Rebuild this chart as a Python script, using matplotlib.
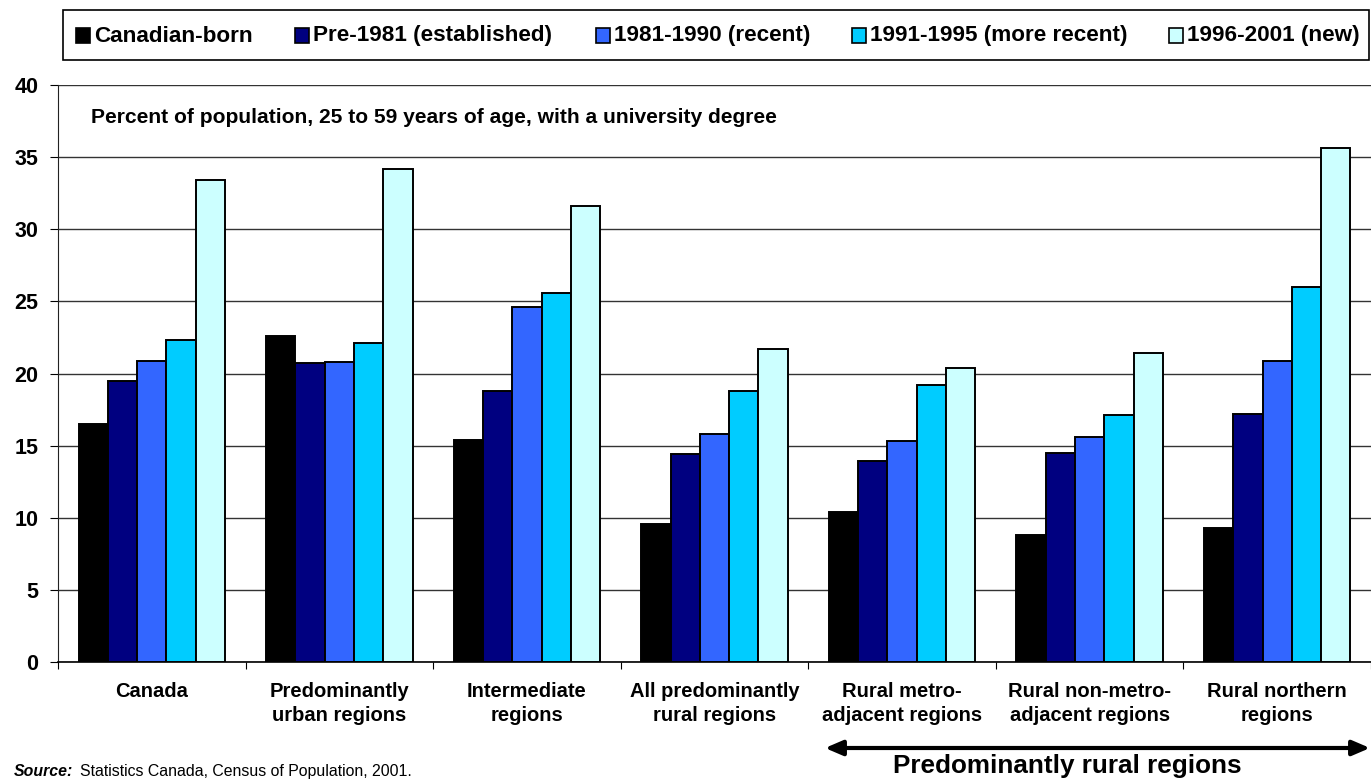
import matplotlib
matplotlib.use("Agg")
import matplotlib.pyplot as plt
import numpy as np
from matplotlib.patches import Rectangle, FancyArrowPatch

plt.rcParams['font.family'] = ['Liberation Sans', 'DejaVu Sans']

categories = ["Canada", "Predominantly\nurban regions", "Intermediate\nregions",
              "All predominantly\nrural regions", "Rural metro-\nadjacent regions",
              "Rural non-metro-\nadjacent regions", "Rural northern\nregions"]
series_names = ["Canadian-born", "Pre-1981 (established)", "1981-1990 (recent)",
                "1991-1995 (more recent)", "1996-2001 (new)"]
canadian_born = [16.5, 22.6, 15.4, 9.6, 10.4, 8.8, 9.3]
pre_1981 = [19.5, 20.7, 18.8, 14.4, 13.9, 14.5, 17.2]
y1981_1990 = [20.9, 20.8, 24.6, 15.8, 15.3, 15.6, 20.9]
y1991_1995 = [22.3, 22.1, 25.6, 18.8, 19.2, 17.1, 26.0]
y1996_2001 = [33.4, 34.2, 31.6, 21.7, 20.4, 21.4, 35.6]
series = [canadian_born, pre_1981, y1981_1990, y1991_1995, y1996_2001]
colors = ["#000000", "#000080", "#3366FF", "#00CCFF", "#CCFFFF"]
yticks = [0, 5, 10, 15, 20, 25, 30, 35, 40]

W, H = 1371, 780
fig = plt.figure(figsize=(W/100, H/100), dpi=100)
ax = fig.add_axes([58/W, 118/H, 1 - 58/W, 577/H])

n = len(categories)
x = np.arange(n)
bw = 0.156
for i, (vals, c) in enumerate(zip(series, colors)):
    ax.bar(x + (i - 2) * bw, vals, width=bw, color=c, edgecolor="black",
           linewidth=1.4, zorder=3)

ax.set_xlim(-0.5, n - 0.5)
ax.set_ylim(0, 40)
ax.set_yticks(yticks)
ax.set_yticklabels([str(t) for t in yticks], fontsize=15.5, fontweight="bold")
ax.yaxis.grid(True, color="#333333", linewidth=1.0, zorder=0)
ax.set_axisbelow(True)
ax.set_xticks(np.arange(n + 1) - 0.5)
ax.set_xticklabels([])
ax.tick_params(axis="x", length=5, direction="out", color="black")
ax.tick_params(axis="y", length=6, direction="out", color="black", pad=8)
for s in ["top", "right"]:
    ax.spines[s].set_visible(False)
ax.spines["left"].set_color("#222222")
ax.spines["bottom"].set_color("black")
ax.spines["bottom"].set_linewidth(1.2)

for xi, lab in zip(x, categories):
    ax.text(xi, -1.4, lab, ha="center", va="top", fontsize=14.5, fontweight="bold",
            linespacing=1.3)

ax.text(0.025, 0.96, "Percent of population, 25 to 59 years of age, with a university degree",
        transform=ax.transAxes, fontsize=15.1, fontweight="bold", va="top", ha="left")

# legend box
fig.patches.append(Rectangle((63/W, 1 - 60/H), (1369 - 63)/W, 50/H,
                             transform=fig.transFigure, facecolor="white",
                             edgecolor="black", linewidth=1.2))
leg_x = [76, 295, 596, 852, 1169]
for lx, name, c in zip(leg_x, series_names, colors):
    fig.patches.append(Rectangle((lx/W, 1 - 43/H), 14/W, 15/H,
                                 transform=fig.transFigure, facecolor=c,
                                 edgecolor="black", linewidth=1.2))
    fig.text((lx + 18)/W, 1 - 36/H, name, fontsize=16.2, fontweight="bold",
             va="center", ha="left")

# arrow
fig.add_artist(FancyArrowPatch(
    (825/W, 1 - 748/H), (1370/W, 1 - 748/H), transform=fig.transFigure,
    arrowstyle="<|-|>,head_length=7,head_width=3", color="black", linewidth=3,
    mutation_scale=1.5, shrinkA=0, shrinkB=0))
fig.text(1067/W, 1 - 766/H, "Predominantly rural regions", fontsize=18.8,
         fontweight="bold", ha="center", va="center")

fig.text(14/W, 1 - 779/H, "Source:", fontsize=11.4, fontweight="bold",
         fontstyle="italic", ha="left", va="bottom")
fig.text(80/W, 1 - 779/H, "Statistics Canada, Census of Population, 2001.",
         fontsize=11.4, ha="left", va="bottom")

fig.savefig("out.png", dpi=100)
